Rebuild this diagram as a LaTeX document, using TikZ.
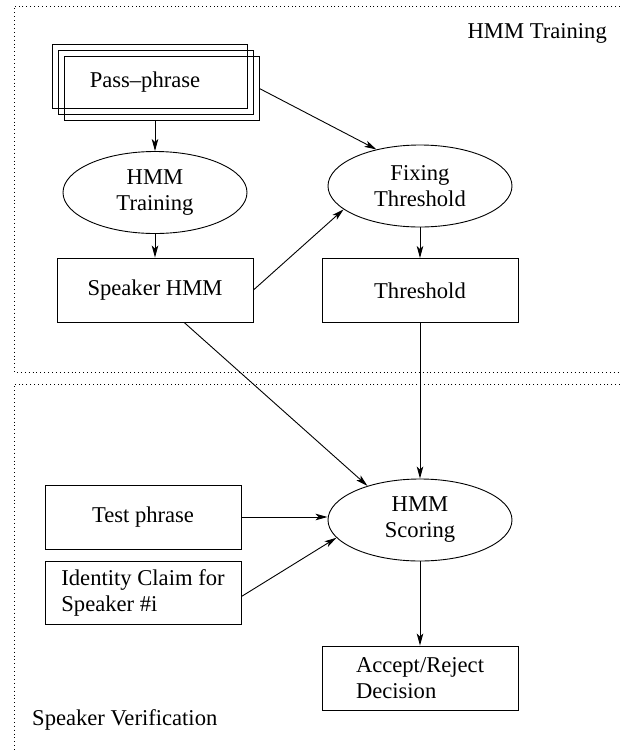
\documentclass[tikz,border=0pt]{standalone}
\usepackage{fontspec}
\setmainfont{Liberation Serif}
\usetikzlibrary{shapes.geometric,arrows.meta,calc}
\begin{document}
\begin{tikzpicture}[x=1pt,y=-1pt,
  every node/.style={font=\fontsize{22.6}{26}\selectfont},
  box/.style={draw,line width=0.9pt,minimum width=196pt,minimum height=64pt,inner sep=0pt,align=left},
  oval/.style={draw,ellipse,line width=0.9pt,minimum width=184pt,minimum height=82pt,inner sep=0pt,align=center},
  frame/.style={line width=0.9pt,dash pattern=on 0.9pt off 3pt},
  arr/.style={line width=0.9pt,-{Stealth[length=12pt,width=6.5pt,inset=3pt]}}]
\useasboundingbox (0,0) rectangle (620,753);
% frames
\draw[frame] (620,6) -- (14,6) -- (14,372) -- (620,372);
\draw[frame] (620,384) -- (14,384) -- (14,753);
% nodes
\node[box,minimum width=195pt] (pp1) at (149.5,76) {};
\node[box,minimum width=195pt] (pp2) at (155.5,82.5) {};
\node[box,minimum width=195pt] (pp3) at (161.5,88.5) {};
\node[inner sep=0pt] (ppt) at (145,82) {Pass–phrase};
\node[oval] (ht) at (155,192.5) {HMM\\Training};
\node[box] (sh) at (155,290) {Speaker HMM};
\node[oval] (ft) at (420,186) {Fixing\\Threshold};
\node[box] (th) at (420,290.5) {Threshold};
\node[oval] (hs) at (420,520) {HMM\\Scoring};
\node[box] (tp) at (143,517) {Test phrase};
\node[box,minimum height=63pt] (ic) at (143,592.5) {Identity Claim for\\Speaker \#i};
\node[box] (ar) at (420,678) {Accept/Reject\\Decision};
\node[anchor=east,inner sep=0pt] (l1) at (607,33) {HMM Training};
\node[anchor=west,inner sep=0pt] (l2) at (32,720) {Speaker Verification};
% connectors
\draw[arr] (ht.north |- pp3.south) -- (ht.north);
\draw[arr] (pp3.east) -- (ft.140);
\draw[arr] (ht.south) -- (sh.north);
\draw[arr] (sh.east) -- (ft.197);
\draw[arr] (ft.south) -- (th.north);
\draw[arr] ($(sh.south west)!0.648!(sh.south east)$) -- (hs.147);
\draw[arr] (th.south) -- (hs.north);
\draw[arr] (tp.east) -- (tp.east -| hs.west);
\draw[arr] ($(ic.east)+(0,4)$) -- (hs.192);
\draw[arr] (hs.south) -- (ar.north);
\end{tikzpicture}
\end{document}
